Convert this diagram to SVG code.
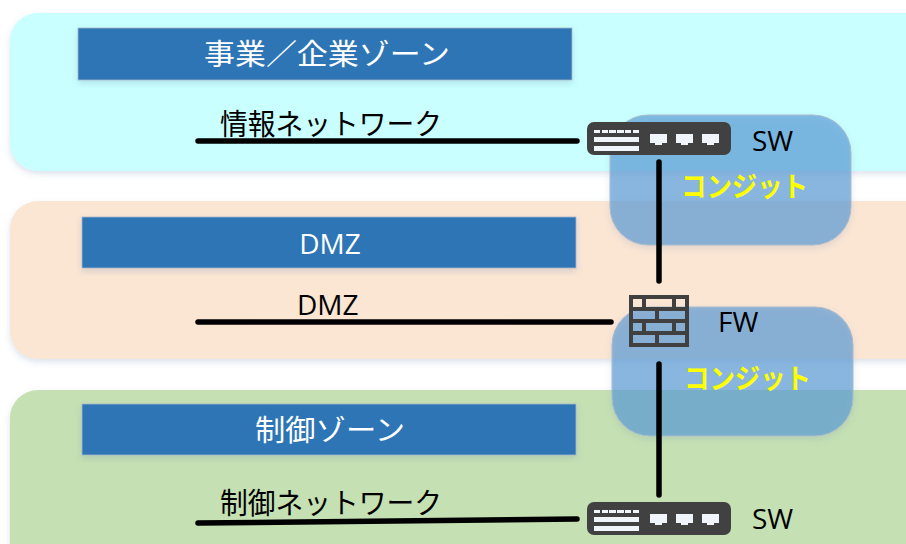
<svg xmlns="http://www.w3.org/2000/svg" width="906" height="544" viewBox="0 0 906 544">
<style>
text{font-family:"Noto Sans CJK JP","Noto Sans",sans-serif}
.z{filter:url(#s)}
.h{fill:#2e74b5;stroke:#a9b8c8;stroke-width:.8;filter:url(#s)}
.ht{fill:#fff;font-size:29px;text-anchor:middle}
.lbl{fill:#000;font-size:29px}
.en{fill:#000;font-size:28px;font-family:"Open Sans","Noto Sans",sans-serif}
.c{fill:#5b9bd5;fill-opacity:.67;stroke:#a9bccd;stroke-width:1;filter:url(#s)}
.ct{fill:#ffff00;font-size:28px;font-weight:700}
.ln{stroke:#000;stroke-width:5.5;stroke-linecap:round;fill:none}
.sw{fill:#414141}
.w{fill:#f0f4fb}
.fwb{fill:none;stroke:#404040;stroke-width:4}
</style>
<defs>
<filter id="s" x="-5%" y="-10%" width="110%" height="125%"><feDropShadow dx="0" dy="3" stdDeviation="3" flood-color="#5b7fa8" flood-opacity=".22"/></filter>
<g id="swi">
<rect class="sw" x="0" y="0" width="144" height="33" rx="7"/>
<path class="w" d="M7 8h6v3h-6zM15 8h6v3h-6zM22 8h7v3h-7zM30 8h7v3h-7zM38 8h6v3h-6zM46 8h6v3h-6zM7 15h45v5h-45zM7 24h45v5h-45z"/>
<path class="w" d="M63 12h17v9h-5v2h-7v-2h-5zM89 12h17v9h-5v2h-7v-2h-5zM115 12h17v9h-5v2h-7v-2h-5z"/>
</g>
</defs>
<rect width="906" height="544" fill="#fff"/>
<g id="zone-enterprise"><rect class="z" x="10" y="13" width="930" height="158" rx="28" fill="#c9ffff"/></g>
<g id="zone-dmz"><rect class="z" x="10" y="201" width="930" height="158" rx="28" fill="#fbe5d3"/></g>
<g id="zone-control"><rect class="z" x="10" y="390" width="930" height="190" rx="28" fill="#c5e0b3"/></g>
<g id="header-enterprise"><rect class="h" x="78" y="28" width="494" height="52"/><text class="ht" x="327" y="65" textLength="246" lengthAdjust="spacingAndGlyphs">事業／企業ゾーン</text></g>
<g id="header-dmz"><rect class="h" x="82" y="217" width="494" height="51"/><text class="ht" x="330" y="254" style="font-family:'Open Sans','Noto Sans',sans-serif;font-size:28px">DMZ</text></g>
<g id="header-control"><rect class="h" x="82" y="404" width="494" height="51"/><text class="ht" x="330" y="441" textLength="150" lengthAdjust="spacingAndGlyphs">制御ゾーン</text></g>
<g id="conduit-upper"><rect class="c" x="610" y="115" width="241" height="130" rx="38"/></g>
<g id="conduit-lower"><rect class="c" x="612" y="307" width="241" height="129" rx="38"/></g>
<g id="connectors">
<path class="ln" d="M198 141H577"/>
<path class="ln" d="M198 322H611"/>
<path class="ln" d="M198 523L577 519"/>
<path class="ln" d="M659 162V281"/>
<path class="ln" d="M659 364V495"/>
</g>
<g id="label-info"><text class="lbl" x="220" y="135" textLength="222" lengthAdjust="spacingAndGlyphs">情報ネットワーク</text></g>
<g id="label-dmz"><text class="en" x="297" y="315">DMZ</text></g>
<g id="label-control"><text class="lbl" x="220" y="514" textLength="222" lengthAdjust="spacingAndGlyphs">制御ネットワーク</text></g>
<g id="sw-top"><use href="#swi" x="587" y="122"/><text class="en" x="752" y="151">SW</text></g>
<g id="fw">
<rect class="fwb" x="631" y="297" width="56" height="48"/>
<path class="fwb" d="M631 309H687M631 321H687M631 333H687M644 297V309M674 297V309M657 309V321M644 321V333M674 321V333M657 333V345"/>
<text class="en" x="718" y="332">FW</text></g>
<g id="sw-bottom"><use href="#swi" x="587" y="502"/><text class="en" x="752" y="529">SW</text></g>
<g id="label-conduit-upper"><text class="ct" x="681" y="197" textLength="127" lengthAdjust="spacingAndGlyphs">コンジット</text></g>
<g id="label-conduit-lower"><text class="ct" x="684" y="389" textLength="127" lengthAdjust="spacingAndGlyphs">コンジット</text></g>
</svg>
